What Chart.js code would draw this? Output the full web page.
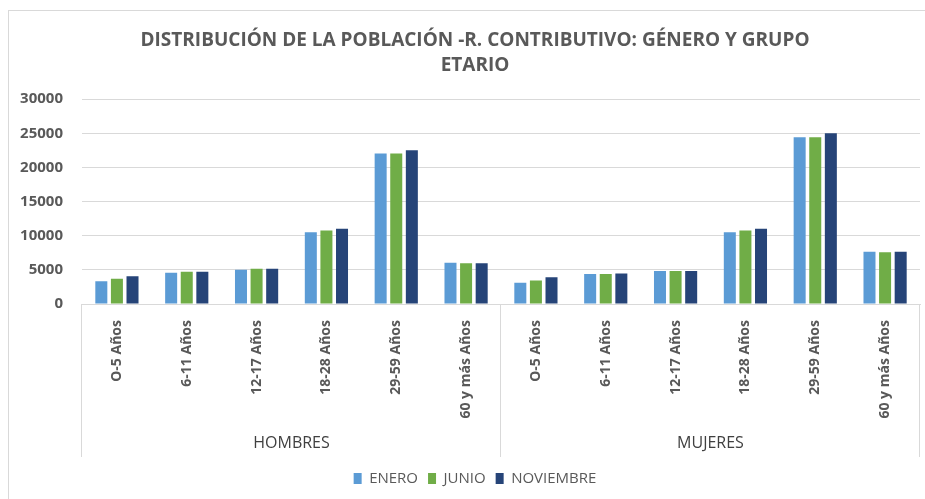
<!DOCTYPE html>
<html>
<head>
<meta charset="utf-8">
<script src="https://cdn.jsdelivr.net/npm/chart.js@4/dist/chart.umd.min.js"></script>
<style>
  html, body { margin: 0; padding: 0; background: #fff; }
  #wrap { position: relative; width: 925px; height: 499px; }
</style>
</head>
<body>
<div id="wrap"><canvas id="poblacionChart" width="925" height="499"></canvas></div>
<script>
// grupos de edad (se repiten para hombres y mujeres)
const categorias = ['O-5 Años', '6-11 Años', '12-17 Años', '18-28 Años', '29-59 Años', '60 y más Años'];
const grupos = ['HOMBRES', 'MUJERES'];
const titulo = ['DISTRIBUCIÓN DE LA POBLACIÓN -R. CONTRIBUTIVO: GÉNERO Y GRUPO', 'ETARIO'];

// valores: primero hombres, luego mujeres
const enero     = [3350, 4570, 5010, 10520, 22030, 6050,  3100, 4380, 4820, 10520, 24430, 7670];
const junio     = [3700, 4720, 5160, 10770, 22030, 5950,  3440, 4380, 4820, 10770, 24430, 7570];
const noviembre = [4050, 4720, 5160, 11010, 22520, 5950,  3930, 4470, 4820, 11010, 25020, 7670];

const gris = '#595959';
const linea = '#D9D9D9';

const etiquetas = grupos.flatMap(() => categorias);

// marco, separadores de grupo y nombres de grupo bajo el eje
const gruposPlugin = {
    id: 'gruposPlugin',
    afterLayout(chart) {
        // título y leyenda van centrados sobre todo el marco, no sobre el lienzo
        [chart.titleBlock, chart.legend].forEach(b => {
            if (b) { b.left += 15; b.right += 15; }
        });
    },
    beforeDraw(chart) {
        const ctx = chart.ctx;
        ctx.save();
        ctx.strokeStyle = linea;
        ctx.lineWidth = 1;
        ctx.strokeRect(8.5, 10.5, chart.width, chart.height);
        ctx.restore();
    },
    afterDraw(chart) {
        const x = chart.scales.x;
        const ctx = chart.ctx;
        const top = x.top;
        const bottom = 457;
        const n = categorias.length;
        const bordes = [x.left];
        for (let g = 1; g < grupos.length; g++) {
            bordes.push((x.getPixelForValue(g * n - 1) + x.getPixelForValue(g * n)) / 2);
        }
        bordes.push(x.right);

        ctx.save();
        ctx.strokeStyle = linea;
        ctx.lineWidth = 1;
        bordes.forEach(px => {
            const p = Math.round(px) - 0.5;
            ctx.beginPath();
            ctx.moveTo(p, top);
            ctx.lineTo(p, bottom);
            ctx.stroke();
        });
        ctx.fillStyle = '#404040';
        ctx.font = '16px "Open Sans"';
        ctx.textAlign = 'center';
        ctx.textBaseline = 'middle';
        grupos.forEach((g, i) => {
            ctx.fillText(g, (bordes[i] + bordes[i + 1]) / 2, 443);
        });
        ctx.restore();
    }
};

const ctx = document.getElementById('poblacionChart').getContext('2d');
new Chart(ctx, {
    type: 'bar',
    data: {
        labels: etiquetas,
        datasets: [
            { label: 'ENERO', data: enero, backgroundColor: '#5B9BD5' },
            { label: 'JUNIO', data: junio, backgroundColor: '#70AD47' },
            { label: 'NOVIEMBRE', data: noviembre, backgroundColor: '#264478' }
        ]
    },
    options: {
        responsive: false,
        animation: false,
        categoryPercentage: 0.67,
        barPercentage: 0.77,
        layout: { padding: { left: 0, right: 5, top: 10, bottom: 3 } },
        scales: {
            x: {
                grid: { display: false },
                border: { display: true, color: linea },
                ticks: {
                    color: gris,
                    font: { family: '"Open Sans"', size: 14, weight: 'bold' },
                    maxRotation: 90,
                    minRotation: 90,
                    padding: 8,
                    autoSkip: false
                },
                afterFit(scale) { scale.height = 157; }
            },
            y: {
                min: 0,
                max: 30000,
                ticks: {
                    stepSize: 5000,
                    color: gris,
                    font: { family: '"Open Sans"', size: 15, weight: 'bold' },
                    padding: 19,
                    callback: v => String(v)
                },
                grid: { color: linea, drawTicks: false },
                border: { display: false },
                afterFit(scale) { scale.width = 82; }
            }
        },
        plugins: {
            title: {
                display: true,
                text: titulo,
                color: gris,
                font: { family: '"Open Sans"', size: 19, weight: 'bold', lineHeight: 1.32 },
                padding: { top: 18, bottom: 21 }
            },
            legend: {
                position: 'bottom',
                labels: {
                    color: gris,
                    font: { family: '"Open Sans"', size: 15 },
                    boxWidth: 8,
                    boxHeight: 11,
                    padding: 10
                }
            },
            tooltip: { enabled: false }
        }
    },
    plugins: [gruposPlugin]
});
</script>
</body>
</html>
